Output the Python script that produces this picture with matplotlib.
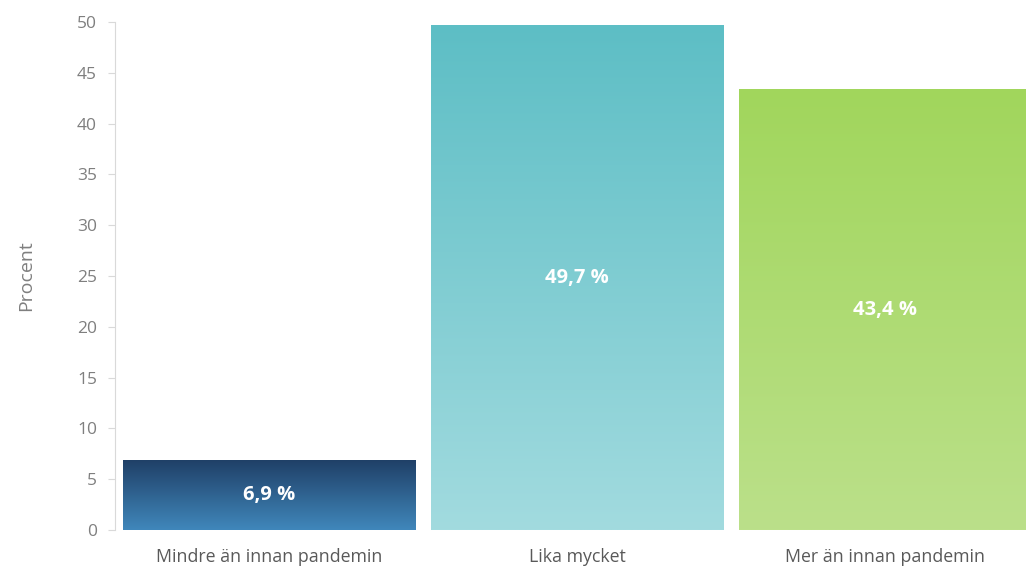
import matplotlib.pyplot as plt
import numpy as np
from matplotlib.colors import LinearSegmentedColormap

categories = ['Mindre än innan pandemin', 'Lika mycket', 'Mer än innan pandemin']
values = [6.9, 49.7, 43.4]
labels = ['6,9 %', '49,7 %', '43,4 %']
yticks = [0, 5, 10, 15, 20, 25, 30, 35, 40, 45, 50]

# gradient (top colour, bottom colour) for each bar
gradients = [('#1f3f66', '#4087bb'), ('#5dbec5', '#a2dbdf'), ('#a1d65c', '#bbe08a')]

plt.rcParams['font.family'] = ['Open Sans', 'DejaVu Sans']

fig = plt.figure(figsize=(10.26, 5.67), dpi=100)
# axes run past the right edge, the last bar is cut off there
ax = fig.add_axes([0.1121, 0.0653, 0.9006, 0.8959])

x = np.arange(len(categories))
bars = ax.bar(x, values, width=0.951, color='none', edgecolor='none')

for b, (top, bottom) in zip(bars, gradients):
    cmap = LinearSegmentedColormap.from_list('g', [bottom, top])
    x0, y0 = b.get_x(), b.get_y()
    w, h = b.get_width(), b.get_height()
    grad = np.linspace(0, 1, 256).reshape(-1, 1)
    im = ax.imshow(grad, cmap=cmap, aspect='auto', origin='lower',
                   extent=[x0, x0 + w, y0, y0 + h], zorder=2)
    im.set_clip_path(b)

for xi, v, lab in zip(x, values, labels):
    ax.text(xi, v / 2, lab, ha='center', va='center',
            color='white', fontsize=14.5, fontweight='bold', zorder=3)

ax.set_xlim(-0.5, len(categories) - 0.5)
ax.set_ylim(0, 50)
ax.set_yticks(yticks)
ax.set_xticks(x)
ax.set_xticklabels(categories)

for s in ['top', 'right', 'bottom']:
    ax.spines[s].set_visible(False)
ax.spines['left'].set_color('#d9d9d9')
ax.tick_params(axis='y', colors='#d9d9d9', length=5, labelcolor='#7f7f7f', labelsize=12.5, pad=8)
ax.tick_params(axis='x', length=0, labelcolor='#595959', labelsize=12.8, pad=13)

ax.set_ylabel('Procent', color='#7f7f7f', fontsize=14, labelpad=30)

fig.savefig('out.png', dpi=100)
